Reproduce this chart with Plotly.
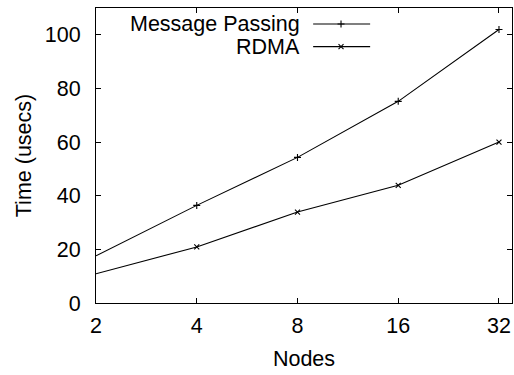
import plotly.graph_objects as go
import math

nodes = [2, 4, 8, 16, 32]
message_passing = [17.6, 36.4, 54.3, 75.2, 102.0]
rdma = [10.9, 20.9, 33.9, 43.9, 60.0]
series_names = ["Message Passing", "RDMA"]
x_ticks = [2, 4, 8, 16, 32]
x_tick_labels = ["2", "4", "8", "16", "32"]
y_ticks = [0, 20, 40, 60, 80, 100]

FONT = "Liberation Sans, Arial, Helvetica, sans-serif"
FS = 21.5

fig = go.Figure()
symbols = ["cross-thin", "x-thin"]
for name, vals, sym in zip(series_names, [message_passing, rdma], symbols):
    fig.add_trace(go.Scatter(
        x=nodes, y=vals, mode="lines+markers", name=name, showlegend=False,
        line=dict(color="black", width=1.1),
        marker=dict(symbol=sym, size=5, color="black", line=dict(color="black", width=1.1)),
        cliponaxis=False,
    ))

# gnuplot-style key: text on the left, sample on the right
key_y = [0.946, 0.869]
for name, sym, ky in zip(series_names, symbols, key_y):
    fig.add_trace(go.Scatter(
        x=[0.522, 0.659], y=[ky, ky], xaxis="x2", yaxis="y2", mode="lines",
        line=dict(color="black", width=1.1), showlegend=False, hoverinfo="skip"))
    fig.add_trace(go.Scatter(
        x=[0.589], y=[ky], xaxis="x2", yaxis="y2", mode="markers",
        marker=dict(symbol=sym, size=5, color="black", line=dict(color="black", width=1.1)),
        showlegend=False, hoverinfo="skip"))
    fig.add_annotation(x=0.490, y=ky, xref="x2", yref="y2", text=name, showarrow=False,
                       xanchor="right", yanchor="middle", xshift=2,
                       font=dict(family=FONT, size=FS, color="black"))

fig.update_layout(
    width=514, height=375,
    margin=dict(l=96, r=2, t=8, b=72, autoexpand=False),
    paper_bgcolor="white", plot_bgcolor="white",
    font=dict(family=FONT, size=FS, color="black"),
    xaxis=dict(
        type="log", range=[math.log10(2), math.log10(35)],
        tickvals=x_ticks, ticktext=x_tick_labels,
        ticks="inside", ticklen=5, tickwidth=1, tickcolor="black",
        showline=True, linecolor="black", linewidth=1.2, mirror="ticks",
        showgrid=False, zeroline=False, automargin=False,
        ticklabelstandoff=3,
        title=dict(text="Nodes", standoff=14, font=dict(size=FS)),
    ),
    yaxis=dict(
        range=[0, 110], tickvals=y_ticks,
        ticks="inside", ticklen=5, tickwidth=1, tickcolor="black",
        showline=True, linecolor="black", linewidth=1.2, mirror="ticks",
        showgrid=False, zeroline=False, automargin=False,
        ticklabelstandoff=10,
        title=dict(text="Time (usecs)", standoff=7, font=dict(size=FS)),
    ),
    xaxis2=dict(overlaying="x", range=[0, 1], visible=False, fixedrange=True),
    yaxis2=dict(overlaying="y", range=[0, 1], visible=False, fixedrange=True),
)

fig.write_html("out.html", config={"displayModeBar": False},
               post_script="document.body.style.margin='0';document.body.style.overflow='hidden';")
